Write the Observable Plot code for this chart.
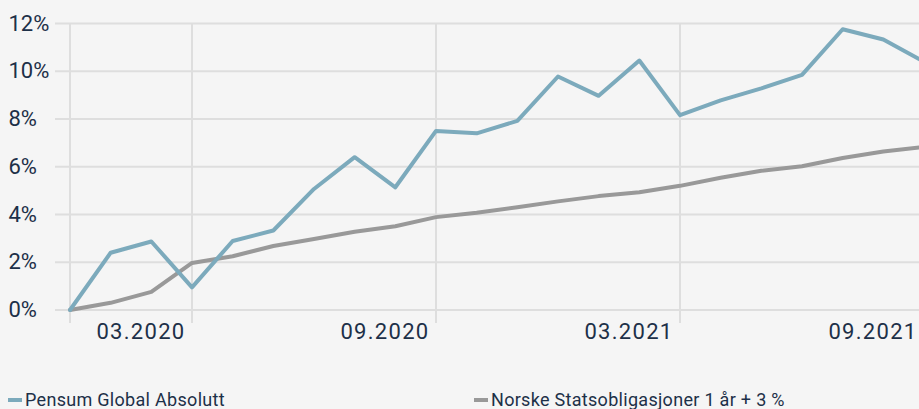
<!DOCTYPE html>
<html>
<head>
<meta charset="utf-8">
<script src="https://cdn.jsdelivr.net/npm/d3@7"></script>
<script src="https://cdn.jsdelivr.net/npm/@observablehq/plot@0.6"></script>
<style>
  html, body { margin: 0; padding: 0; background: #f5f5f5; overflow: hidden; }
  body { width: 919px; height: 409px; position: relative; font-family: Roboto, sans-serif; }
  #chart svg { display: block; }
  .xlab text { letter-spacing: 1.3px; }
  .legend { position: absolute; left: 0; top: 389px; width: 919px; height: 22px; font-size: 18px; line-height: 22px; color: #1d3048; letter-spacing: 0.3px; }
  .item { position: absolute; top: 0; display: flex; align-items: center; white-space: nowrap; }
  .sw { width: 14px; height: 4px; margin-right: 3px; }
</style>
</head>
<body>
<div id="chart"></div>
<div class="legend" id="legend"></div>
<script>
const months = ["12.2019","01.2020","02.2020","03.2020","04.2020","05.2020","06.2020","07.2020","08.2020","09.2020","10.2020","11.2020","12.2020","01.2021","02.2021","03.2021","04.2021","05.2021","06.2021","07.2021","08.2021","09.2021"];
const pensum = [0, 2.4, 2.87, 0.95, 2.89, 3.33, 5.07, 6.4, 5.14, 7.5, 7.4, 7.92, 9.78, 8.97, 10.45, 8.16, 8.78, 9.28, 9.85, 11.76, 11.33, 10.4];
const norske = [0, 0.3, 0.76, 1.97, 2.25, 2.68, 2.97, 3.28, 3.51, 3.89, 4.07, 4.3, 4.55, 4.77, 4.93, 5.2, 5.54, 5.83, 6.02, 6.37, 6.64, 6.83];
const seriesNames = ["Pensum Global Absolutt", "Norske Statsobligasjoner 1 år + 3 %"];
const seriesColors = ["#7caabc", "#999999"];
const yTicks = [0, 2, 4, 6, 8, 10, 12];
const xTicks = [3, 9, 15, 21];

const rowsP = months.map((m, i) => ({i, v: pensum[i]}));
const rowsN = months.map((m, i) => ({i, v: norske[i]}));
const navy = "#1d3048";

const plot = Plot.plot({
  width: 919,
  height: 384,
  marginLeft: 69.5,
  marginRight: 0,
  marginTop: 23,
  marginBottom: 74.5,
  style: {background: "#f5f5f5", fontFamily: "Roboto, sans-serif", overflow: "hidden"},
  x: {type: "linear", domain: [0, 21], range: [69.5, 923.5], axis: null},
  y: {domain: [0, 12], axis: null},
  marks: [
    Plot.ruleY(yTicks, {y: d => d, stroke: "#dedede", strokeWidth: 2, insetLeft: -14.5}),
    Plot.ruleX([0, ...xTicks], {x: d => d, y1: 12, y2: 0, insetBottom: -13.5, stroke: "#dedede", strokeWidth: 2}),
    Plot.text(yTicks, {y: d => d, text: d => d + "%", frameAnchor: "left", textAnchor: "start", dx: 8 - 69.5, fontSize: 22, fill: navy}),
    Plot.axisX({ticks: xTicks, tickFormat: d => months[d], label: null, tickSize: 0, tickPadding: 13.8, textAnchor: "end", dx: -6.5, fontSize: 22, fill: navy, color: navy, className: "xlab"}),
    Plot.line(rowsN, {x: "i", y: "v", stroke: seriesColors[1], strokeWidth: 4}),
    Plot.line(rowsP, {x: "i", y: "v", stroke: seriesColors[0], strokeWidth: 4})
  ]
});
document.getElementById("chart").appendChild(plot);

const legend = document.getElementById("legend");
const lefts = [8, 474];
seriesNames.forEach((name, k) => {
  const it = document.createElement("div");
  it.className = "item";
  it.style.left = lefts[k] + "px";
  const sw = document.createElement("span");
  sw.className = "sw";
  sw.style.background = seriesColors[k];
  const tx = document.createElement("span");
  tx.textContent = name;
  it.appendChild(sw);
  it.appendChild(tx);
  legend.appendChild(it);
});
</script>
</body>
</html>
